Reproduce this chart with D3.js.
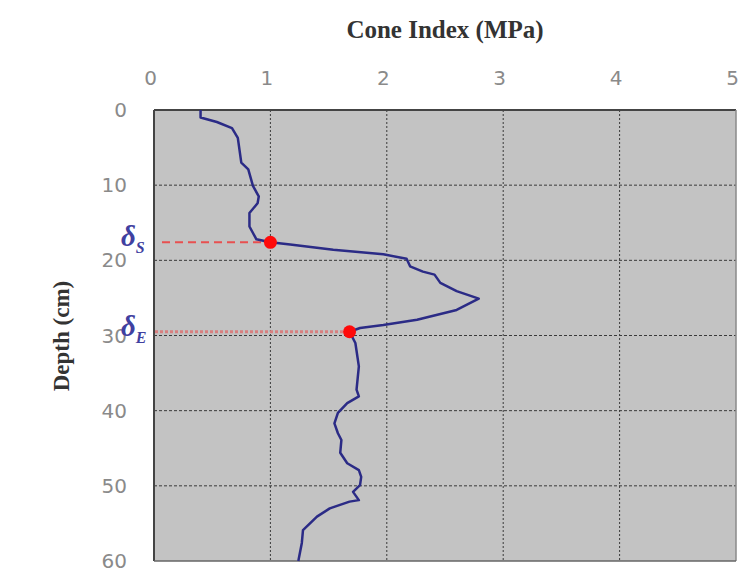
<!DOCTYPE html>
<html>
<head>
<meta charset="utf-8">
<script src="https://cdn.jsdelivr.net/npm/d3@7"></script>
<style>
  html, body { margin: 0; padding: 0; background: #fff; }
  svg { display: block; }
</style>
</head>
<body>
<svg id="chart"></svg>
<script>
// <========================== data ==========================>
const depth = [0, 1.0, 1.6, 2.4, 3.7, 7.0, 7.9, 10.1, 11.5, 12.4, 13.7, 15.5, 17.2, 17.6,
  17.9, 18.6, 19.2, 19.8, 20.8, 21.5, 21.9, 23.0, 24.1, 25.1, 26.6, 27.9, 28.6, 29.0, 29.5,
  31.0, 34.1, 37.2, 38.1, 39.0, 40.3, 41.7, 43.0, 43.9, 45.6, 47.0, 47.9, 48.8, 49.9, 50.8,
  51.9, 52.1, 53.0, 54.1, 55.9, 57.6, 60];
const coneIndex = [0.40, 0.40, 0.54, 0.67, 0.72, 0.75, 0.81, 0.85, 0.90, 0.89, 0.82, 0.82, 0.88, 1.00,
  1.17, 1.54, 1.97, 2.17, 2.20, 2.31, 2.41, 2.46, 2.60, 2.79, 2.60, 2.26, 1.97, 1.77, 1.68,
  1.73, 1.76, 1.74, 1.76, 1.66, 1.58, 1.55, 1.58, 1.61, 1.60, 1.66, 1.76, 1.78, 1.77, 1.71,
  1.76, 1.68, 1.51, 1.40, 1.28, 1.27, 1.24];

const markerNames = ["S", "E"];
const markerDepth = [17.6, 29.5];
const markerCI = [1.00, 1.68];

const xTicks = [0, 1, 2, 3, 4, 5];
const yTicks = [0, 10, 20, 30, 40, 50, 60];

// <========================== layout ==========================>
const width = 748, height = 576;
const margin = { top: 110, right: 12, bottom: 15, left: 154 };
const innerWidth = width - margin.left - margin.right;
const innerHeight = height - margin.top - margin.bottom;

const svg = d3.select("#chart").attr("width", width).attr("height", height);

const x = d3.scaleLinear().domain([0, 5]).range([0, innerWidth]);
const y = d3.scaleLinear().domain([0, 60]).range([0, innerHeight]);

const g = svg.append("g").attr("transform", `translate(${margin.left},${margin.top})`);

// plot background
g.append("rect")
  .attr("width", innerWidth).attr("height", innerHeight)
  .attr("fill", "#c3c3c3");

// grid lines
g.append("g").selectAll("line").data(xTicks.slice(1, -1)).join("line")
  .attr("x1", d => x(d)).attr("x2", d => x(d))
  .attr("y1", 0).attr("y2", innerHeight)
  .attr("stroke", "#3a3a3a").attr("stroke-width", 1)
  .attr("stroke-dasharray", "2,2");

g.append("g").selectAll("line").data(yTicks.slice(1, -1)).join("line")
  .attr("x1", 0).attr("x2", innerWidth)
  .attr("y1", d => y(d)).attr("y2", d => y(d))
  .attr("stroke", "#3a3a3a").attr("stroke-width", 1)
  .attr("stroke-dasharray", "3,2");

// frame
g.append("line").attr("x1", 0).attr("x2", innerWidth).attr("y1", 0).attr("y2", 0)
  .attr("stroke", "#444").attr("stroke-width", 2);
g.append("line").attr("x1", 0).attr("x2", 0).attr("y1", 0).attr("y2", innerHeight)
  .attr("stroke", "#444").attr("stroke-width", 2);
g.append("line").attr("x1", innerWidth).attr("x2", innerWidth).attr("y1", 0).attr("y2", innerHeight)
  .attr("stroke", "#8a8a8a").attr("stroke-width", 1.5);
g.append("line").attr("x1", 0).attr("x2", innerWidth).attr("y1", innerHeight).attr("y2", innerHeight)
  .attr("stroke", "#666").attr("stroke-width", 1.5);

// axes (top x, left y)
const xAxis = g.append("g")
  .call(d3.axisTop(x).tickValues(xTicks).tickSize(0).tickPadding(25).tickFormat(d3.format("d")));
const yAxis = g.append("g")
  .call(d3.axisLeft(y).tickValues(yTicks).tickSize(0).tickPadding(27).tickFormat(d3.format("d")));
[xAxis, yAxis].forEach(a => {
  a.select(".domain").remove();
  a.selectAll("text")
    .attr("font-family", "'DejaVu Sans', sans-serif")
    .attr("font-size", 20)
    .attr("fill", "#8a8a8a");
});
xAxis.selectAll("text").attr("dx", -4);
yAxis.selectAll("text").attr("dy", "0.33em");

// reference lines to markers
const refStyles = [
  { color: "#e85050", dash: "8,5", w: 2 },
  { color: "#d88080", dash: "3,2", w: 3 }
];
g.append("g").selectAll("line").data(markerDepth).join("line")
  .attr("x1", (d, i) => i === 0 ? 8 : 1)
  .attr("x2", (d, i) => x(markerCI[i]))
  .attr("y1", d => y(d)).attr("y2", d => y(d))
  .attr("stroke", (d, i) => refStyles[i].color)
  .attr("stroke-width", (d, i) => refStyles[i].w)
  .attr("stroke-dasharray", (d, i) => refStyles[i].dash);

// profile line
const line = d3.line()
  .x((d, i) => x(coneIndex[i]))
  .y(d => y(d))
  .curve(d3.curveLinear);
g.append("path")
  .datum(depth)
  .attr("d", line)
  .attr("fill", "none")
  .attr("stroke", "#2b2b86")
  .attr("stroke-width", 2.5)
  .attr("stroke-linejoin", "round");

// markers
g.append("g").selectAll("circle").data(markerDepth).join("circle")
  .attr("cx", (d, i) => x(markerCI[i]))
  .attr("cy", d => y(d))
  .attr("r", 6.5)
  .attr("fill", "#ff0a0a");

// delta labels
const lab = g.append("g").selectAll("text").data(markerDepth).join("text")
  .attr("x", -33)
  .attr("y", d => y(d) + 4)
  .attr("font-family", "'Liberation Serif', serif")
  .attr("font-style", "italic")
  .attr("font-weight", "bold")
  .attr("fill", "#4040a0");
lab.append("tspan").attr("font-size", 29).text("δ");
lab.append("tspan").attr("font-size", 16).attr("dy", 7).text((d, i) => markerNames[i]);

// titles
svg.append("text")
  .attr("x", margin.left + innerWidth / 2)
  .attr("y", 38)
  .attr("text-anchor", "middle")
  .attr("font-family", "'Liberation Serif', serif")
  .attr("font-weight", "bold")
  .attr("font-size", 25)
  .attr("fill", "#333")
  .text("Cone Index (MPa)");

svg.append("text")
  .attr("transform", `translate(69,336) rotate(-90)`)
  .attr("text-anchor", "middle")
  .attr("font-family", "'Liberation Serif', serif")
  .attr("font-weight", "bold")
  .attr("font-size", 23)
  .attr("fill", "#333")
  .text("Depth (cm)");
</script>
</body>
</html>
